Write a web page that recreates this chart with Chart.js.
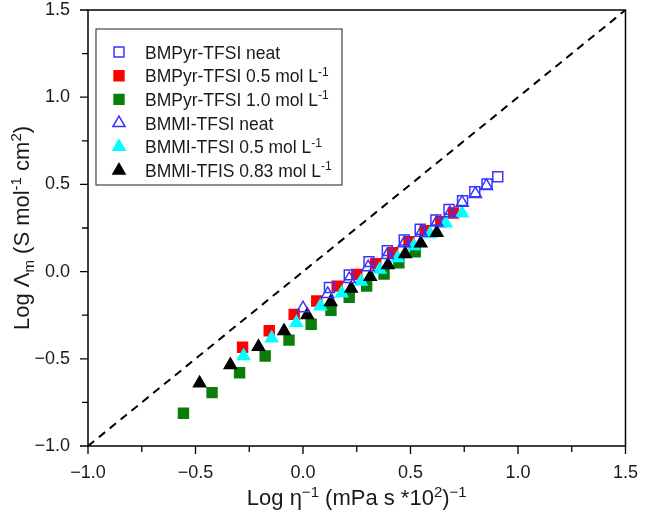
<!DOCTYPE html>
<html>
<head>
<meta charset="utf-8">
<script src="https://cdn.jsdelivr.net/npm/chart.js@4.4.1/dist/chart.umd.min.js"></script>
<style>
  html, body { margin: 0; padding: 0; background: #fff; }
  #wrap { width: 646px; height: 522px; }
</style>
</head>
<body>
<div id="wrap"><canvas id="chart" width="646" height="522"></canvas></div>
<script>
// values (log scales)
const pyrNeatX = [0.123, 0.215, 0.307, 0.392, 0.471, 0.545, 0.618, 0.679, 0.742, 0.799, 0.856, 0.906];
const pyrNeatY = [-0.091, -0.019, 0.057, 0.120, 0.181, 0.243, 0.296, 0.357, 0.407, 0.458, 0.502, 0.544];

const pyr05X = [-0.281, -0.157, -0.041, 0.064, 0.159, 0.250, 0.338, 0.417, 0.493, 0.568, 0.641, 0.700];
const pyr05Y = [-0.434, -0.339, -0.245, -0.169, -0.083, -0.017, 0.046, 0.108, 0.171, 0.235, 0.286, 0.336];

const pyr10X = [-0.556, -0.423, -0.295, -0.176, -0.065, 0.038, 0.130, 0.215, 0.296, 0.377, 0.446, 0.522];
const pyr10Y = [-0.812, -0.694, -0.580, -0.484, -0.393, -0.302, -0.222, -0.148, -0.083, -0.014, 0.051, 0.114];

const bmmiNeatX = [0.000, 0.115, 0.215, 0.303, 0.392, 0.471, 0.550, 0.622, 0.683, 0.740, 0.802, 0.853];
const bmmiNeatY = [-0.210, -0.128, -0.042, 0.025, 0.095, 0.162, 0.223, 0.281, 0.335, 0.395, 0.445, 0.491];

const bmmi05X = [-0.276, -0.146, -0.031, 0.081, 0.180, 0.270, 0.357, 0.440, 0.515, 0.591, 0.664, 0.740];
const bmmi05Y = [-0.484, -0.382, -0.293, -0.198, -0.124, -0.057, 0.012, 0.078, 0.147, 0.216, 0.277, 0.334];

const bmmi083X = [-0.481, -0.338, -0.207, -0.088, 0.020, 0.129, 0.224, 0.313, 0.395, 0.475, 0.548, 0.622];
const bmmi083Y = [-0.640, -0.535, -0.431, -0.341, -0.249, -0.174, -0.097, -0.029, 0.038, 0.101, 0.162, 0.223];

const guideX = [-1.0, 1.5];
const guideY = [-1.0, 1.5];

const axisMin = -1.0;
const axisMax = 1.5;

const FONT = '"Liberation Sans", Arial, sans-serif';

function pts(xs, ys) {
    return xs.map((x, i) => ({ x: x, y: ys[i] }));
}

// legend entries: label parts [text, 0 normal / 1 superscript]
const legendItems = [
    { parts: [['BMPyr-TFSI neat', 0]], style: 'rect', fill: 'rgba(0,0,0,0)', stroke: '#3535ff' },
    { parts: [['BMPyr-TFSI 0.5 mol L', 0], ['-1', 1]], style: 'rect', fill: '#ff0000', stroke: '#ff0000' },
    { parts: [['BMPyr-TFSI 1.0 mol L', 0], ['-1', 1]], style: 'rect', fill: '#0a7d0a', stroke: '#0a7d0a' },
    { parts: [['BMMI-TFSI neat', 0]], style: 'triangle', fill: 'rgba(0,0,0,0)', stroke: '#3535ff' },
    { parts: [['BMMI-TFSI 0.5 mol L', 0], ['-1', 1]], style: 'triangle', fill: '#00ffff', stroke: '#00ffff' },
    { parts: [['BMMI-TFIS 0.83 mol L', 0], ['-1', 1]], style: 'triangle', fill: '#000000', stroke: '#000000' }
];

// draw text with superscripts (1) and subscripts (-1)
function drawRich(ctx, parts, x, y, size, align) {
    const small = Math.round(size * 0.68);
    let total = 0;
    parts.forEach(p => {
        ctx.font = (p[1] === 0 ? size : small) + 'px ' + FONT;
        total += ctx.measureText(p[0]).width;
    });
    let cx = align === 'center' ? x - total / 2 : x;
    ctx.textAlign = 'left';
    ctx.textBaseline = 'alphabetic';
    parts.forEach(p => {
        let dy = 0;
        if (p[1] === 1) dy = -size * 0.38;
        if (p[1] === -1) dy = size * 0.22;
        ctx.font = (p[1] === 0 ? size : small) + 'px ' + FONT;
        ctx.fillText(p[0], cx, y + dy);
        cx += ctx.measureText(p[0]).width;
    });
}

const framePlugin = {
    id: 'frame',
    afterDraw(chart) {
        const ctx = chart.ctx;
        const a = chart.chartArea;
        const xs = chart.scales.x;
        const ys = chart.scales.y;
        ctx.save();

        // frame
        ctx.strokeStyle = '#000';
        ctx.lineWidth = 1.5;
        ctx.strokeRect(a.left, a.top, a.right - a.left, a.bottom - a.top);

        // major and minor ticks, outward
        ctx.lineWidth = 1.3;
        ctx.beginPath();
        for (let i = 0; i <= 10; i++) {
            const v = axisMin + i * 0.25;
            const len = i % 2 === 0 ? 8 : 6;
            const px = xs.getPixelForValue(v);
            ctx.moveTo(px, a.bottom);
            ctx.lineTo(px, a.bottom + len);
            const py = ys.getPixelForValue(v);
            ctx.moveTo(a.left, py);
            ctx.lineTo(a.left - len, py);
        }
        ctx.stroke();

        // axis titles
        ctx.fillStyle = '#1a1a1a';
        drawRich(ctx, [['Log \u03b7', 0], ['\u22121', 1], [' (mPa s *10', 0], ['2', 1], [')', 0], ['\u22121', 1]],
            (a.left + a.right) / 2, 505, 22, 'center');
        ctx.save();
        ctx.translate(29, (a.top + a.bottom) / 2);
        ctx.rotate(-Math.PI / 2);
        drawRich(ctx, [['Log \u039b', 0], ['m', -1], [' (S mol', 0], ['-1', 1], [' cm', 0], ['2', 1], [')', 0]],
            0, 0, 22, 'center');
        ctx.restore();

        // legend box
        const lx = a.left + 8;
        const ly = a.top + 19;
        ctx.fillStyle = '#fff';
        ctx.fillRect(lx, ly, 246, 156);
        ctx.strokeStyle = '#444';
        ctx.lineWidth = 1.2;
        ctx.strokeRect(lx, ly, 246, 156);
        legendItems.forEach((item, i) => {
            const rowY = ly + 23 + i * 23.7;
            ctx.fillStyle = item.fill;
            ctx.strokeStyle = item.stroke;
            ctx.lineWidth = 1.5;
            Chart.helpers.drawPoint(ctx, { pointStyle: item.style, radius: 7, rotation: 0, borderWidth: 1.5 }, lx + 23, rowY);
            ctx.fillStyle = '#1a1a1a';
            drawRich(ctx, item.parts, lx + 49, rowY + 6.5, 17.5, 'left');
        });
        ctx.restore();
    }
};

function series(xs, ys, style, fill, stroke, order) {
    return {
        data: pts(xs, ys),
        pointStyle: style,
        pointRadius: 7,
        pointHoverRadius: 7,
        pointBackgroundColor: fill,
        pointBorderColor: stroke,
        pointBorderWidth: 1.5,
        showLine: false,
        order: order
    };
}

const datasets = [
    series(pyrNeatX, pyrNeatY, 'rect', 'rgba(0,0,0,0)', '#3535ff', 1),
    series(bmmiNeatX, bmmiNeatY, 'triangle', 'rgba(0,0,0,0)', '#3535ff', 2),
    series(bmmi083X, bmmi083Y, 'triangle', '#000000', '#000000', 3),
    series(bmmi05X, bmmi05Y, 'triangle', '#00ffff', '#00ffff', 4),
    series(pyr05X, pyr05Y, 'rect', '#ff0000', '#ff0000', 5),
    series(pyr10X, pyr10Y, 'rect', '#0a7d0a', '#0a7d0a', 6),
    {
        data: pts(guideX, guideY),
        showLine: true,
        borderColor: '#000',
        borderWidth: 2,
        borderDash: [8, 6],
        pointRadius: 0,
        order: 7
    }
];

const tickFmt = v => (v < 0 ? '\u2212' : '') + Math.abs(v).toFixed(1);

new Chart(document.getElementById('chart'), {
    type: 'scatter',
    data: { datasets: datasets },
    options: {
        responsive: false,
        animation: false,
        layout: { padding: { top: 10, right: 10, left: 0, bottom: 0 } },
        plugins: { legend: { display: false }, tooltip: { enabled: false } },
        scales: {
            x: {
                min: axisMin, max: axisMax,
                grid: { display: false },
                border: { display: false },
                ticks: { stepSize: 0.5, padding: 8, color: '#1a1a1a', font: { size: 18, family: FONT }, callback: tickFmt, maxRotation: 0 },
                afterFit: s => { s.height = 76; }
            },
            y: {
                min: axisMin, max: axisMax,
                grid: { display: false },
                border: { display: false },
                ticks: { stepSize: 0.5, padding: 10, color: '#1a1a1a', font: { size: 18, family: FONT }, callback: tickFmt },
                afterFit: s => { s.width = 88; s.paddingTop = 0; s.paddingBottom = 0; }
            }
        }
    },
    plugins: [framePlugin]
});
</script>
</body>
</html>
